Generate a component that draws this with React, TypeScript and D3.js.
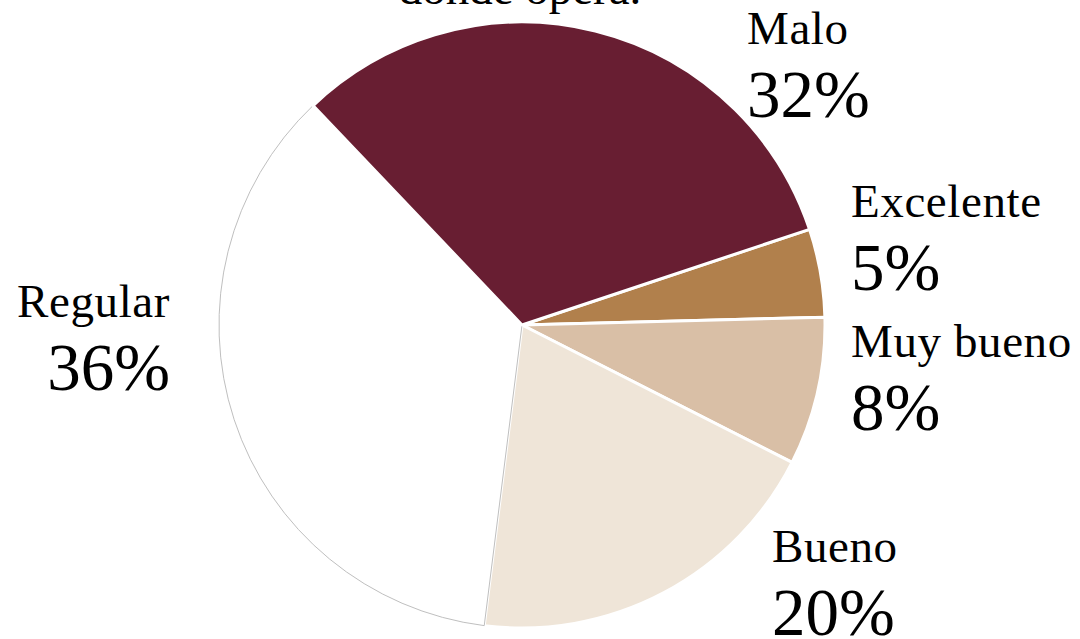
import React, { useEffect, useRef } from 'react';
import * as d3 from 'd3';

// Pie data (order as drawn clockwise)
const categories = ['Excelente', 'Muy bueno', 'Bueno', 'Regular', 'Malo'];
const values = [4.7, 7.9, 19.5, 35.9, 32.0];
const shownPct = ['5%', '8%', '20%', '36%', '32%'];
const colors = ['#B1804C', '#D9BFA6', '#EFE5D8', '#FFFFFF', '#681E32'];
const titleTail = 'donde opera.';

const App: React.FC = () => {
    const ref = useRef<SVGSVGElement>(null);

    useEffect(() => {
        if (!ref.current) return;
        const svg = d3.select(ref.current);
        svg.selectAll('*').remove();

        const cx = 522;
        const cy = 325;
        const radius = 303;
        const startDeg = 71.6;

        const pie = d3.pie<number>()
            .sort(null)
            .value(d => d)
            .startAngle(startDeg * Math.PI / 180)
            .endAngle(startDeg * Math.PI / 180 + 2 * Math.PI);

        const arc = d3.arc<d3.PieArcDatum<number>>()
            .innerRadius(0)
            .outerRadius(radius);

        const g = svg.append('g').attr('transform', `translate(${cx},${cy})`);

        g.selectAll('path.slice')
            .data(pie(values))
            .enter()
            .append('path')
            .attr('class', 'slice')
            .attr('d', arc)
            .attr('fill', (_, i) => colors[i])
            .attr('stroke', (_, i) => (categories[i] === 'Regular' ? '#BFBFBF' : '#FFFFFF'))
            .attr('stroke-width', (_, i) => (categories[i] === 'Regular' ? 1 : 3))
            .attr('stroke-linejoin', 'round');

        // Label placement (Excel "best fit" style, absolute page positions)
        const labelPos: Record<string, { x: number; y: number; anchor: string }> = {
            'Malo': { x: 747, y: 44, anchor: 'start' },
            'Excelente': { x: 851, y: 217, anchor: 'start' },
            'Muy bueno': { x: 851, y: 357, anchor: 'start' },
            'Bueno': { x: 772, y: 562, anchor: 'start' },
            'Regular': { x: 170, y: 317, anchor: 'end' },
        };

        const font = "'Liberation Serif', 'Times New Roman', serif";

        categories.forEach((c, i) => {
            const p = labelPos[c];
            const t = svg.append('text')
                .attr('x', p.x)
                .attr('y', p.y)
                .attr('text-anchor', p.anchor)
                .attr('font-family', font)
                .attr('fill', '#000');
            t.append('tspan')
                .attr('x', p.x)
                .attr('font-size', '47px')
                .attr('letter-spacing', '0.6px')
                .text(c);
            t.append('tspan')
                .attr('x', p.x)
                .attr('dy', 73)
                .attr('font-size', '67px')
                .text(shownPct[i]);
        });

        // Title, mostly cut off at the top
        svg.append('text')
            .attr('x', 520)
            .attr('y', 4)
            .attr('text-anchor', 'middle')
            .attr('font-family', font)
            .attr('font-size', '47px')
            .attr('fill', '#000')
            .text(titleTail);
    }, []);

    return (
        <svg
            ref={ref}
            width={1080}
            height={639}
            style={{ position: 'absolute', left: 0, top: 0, background: '#fff' }}
        />
    );
};

export default App;
